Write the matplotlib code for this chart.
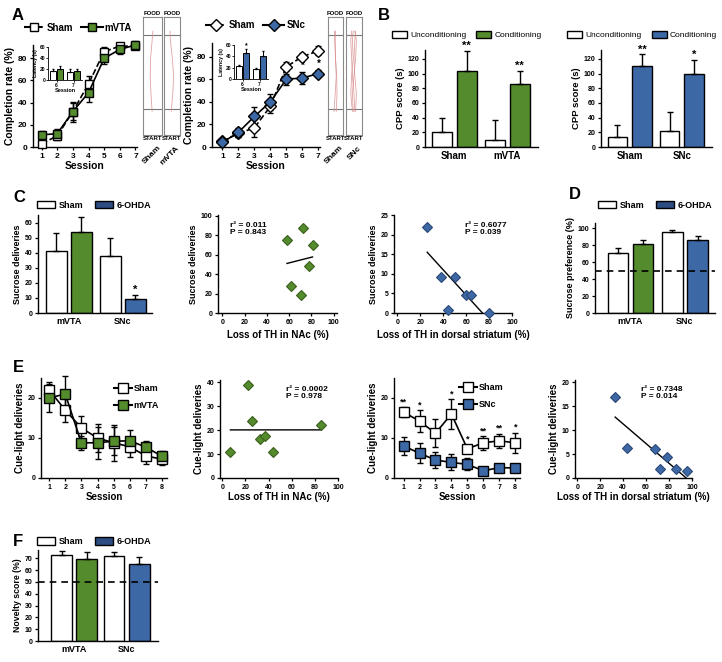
import matplotlib
matplotlib.use("Agg")
import matplotlib.pyplot as plt
import numpy as np
from matplotlib.patches import Patch
from matplotlib.lines import Line2D

plt.rcParams['font.family'] = ['Liberation Sans', 'DejaVu Sans']
plt.rcParams['font.weight'] = 'bold'
plt.rcParams['axes.labelweight'] = 'bold'
plt.rcParams['axes.linewidth'] = 1.0

GREEN = '#548b2c'
BLUE = '#3d68a6'
GREEN_EDGE = '#3b5f1d'
BLUE_EDGE = '#2b4875'
OHDA = '#2d4c82'

# ---- data ----
sessions7 = [1, 2, 3, 4, 5, 6, 7]
a_sham_vta = [3, 10, 32, 57, 86, 91, 91]
a_sham_vta_err = [3, 4, 8, 7, 4, 3, 3]
a_mvta = [11, 12, 32, 49, 80, 88, 92]
a_mvta_err = [3, 4, 9, 8, 5, 4, 4]
a_sham_snc = [5, 12, 17, 36, 71, 80, 85]
a_sham_snc_err = [2, 3, 8, 6, 4, 3, 4]
a_snc = [4, 13, 27, 40, 60, 61, 65]
a_snc_err = [2, 4, 8, 7, 5, 5, 3]
a_snc_stars = {6: '*', 7: '*'}

inset_sessions = [6, 7]
lat_sham_vta = [17, 15]
lat_sham_vta_err = [3, 5]
lat_mvta = [20, 16]
lat_mvta_err = [6, 4]
lat_sham_snc = [23, 17]
lat_sham_snc_err = [2, 2]
lat_snc = [46, 41]
lat_snc_err = [7, 9]

# track traces: x position (0-1 inside box) at these heights
track_levels = [0.2, 0.35, 0.5, 0.65, 0.8, 0.88]
trace_sham_vta = [[0.48, 0.42, 0.38, 0.40, 0.48, 0.52]]
trace_mvta = [[0.45, 0.55, 0.60, 0.52, 0.40, 0.38]]
trace_sham_snc = [[0.40, 0.48, 0.55, 0.50, 0.45, 0.42], [0.55, 0.60, 0.58, 0.50, 0.48, 0.50]]
trace_snc = [[0.40, 0.30, 0.35, 0.45, 0.40, 0.45], [0.55, 0.50, 0.40, 0.35, 0.30, 0.35],
             [0.60, 0.65, 0.55, 0.50, 0.55, 0.60], [0.45, 0.40, 0.50, 0.60, 0.65, 0.55]]

b_groups_vta = ['Sham', 'mVTA']
b_uncond_vta = [20, 10]
b_uncond_vta_err = [19, 27]
b_cond_vta = [103, 86]
b_cond_vta_err = [28, 17]
b_groups_snc = ['Sham', 'SNc']
b_uncond_snc = [13, 22]
b_uncond_snc_err = [17, 26]
b_cond_snc = [110, 99]
b_cond_snc_err = [16, 19]
b_stars_vta = ['**', '**']
b_stars_snc = ['**', '*']

lesion_groups = ['mVTA', 'SNc']
c_sham = [41, 38]
c_sham_err = [12, 12]
c_ohda = [54, 9]
c_ohda_err = [10, 3]
c_stars = ['', '*']

c_nac_loss = [72, 58, 81, 78, 62, 71]
c_nac_sucrose = [88, 75, 70, 48, 28, 19]
c_ds_loss = [26, 38, 50, 44, 60, 64, 80]
c_ds_sucrose = [22, 9.3, 9.3, 0.8, 4.6, 4.6, 0]

d_sham = [71, 95]
d_sham_err = [6, 3]
d_ohda = [81, 86]
d_ohda_err = [5, 5]

sessions8 = [1, 2, 3, 4, 5, 6, 7, 8]
e_sham_vta = [22, 17, 12.5, 10, 8.8, 7.8, 5.5, 4.7]
e_sham_vta_err = [2, 3, 3, 3.5, 4.5, 2.5, 2, 1.5]
e_mvta = [20, 21, 8.8, 8.8, 9.2, 9.3, 7.7, 5.4]
e_mvta_err = [3.5, 4.5, 1.7, 4, 3.5, 2.8, 1.5, 1.3]
e_sham_snc = [16.5, 14.2, 11.2, 16, 7.3, 8.8, 9.3, 8.8]
e_sham_snc_err = [1.2, 2.7, 3.5, 3.7, 1.0, 1.7, 1.8, 2.5]
e_snc = [8, 6.2, 4.5, 3.9, 3.4, 1.8, 2.6, 2.5]
e_snc_err = [2.3, 2.5, 2, 2, 1.5, 1, 0.4, 0.3]
e_stars = ['**', '*', '', '*', '*', '**', '**', '*']

e_nac_loss = [7, 22.5, 25.5, 32.5, 37, 43.5, 85]
e_nac_cue = [11, 39, 24, 16.5, 17.7, 10.7, 22]
e_ds_loss = [33, 43.5, 68, 78, 72, 86, 95.5]
e_ds_cue = [16.9, 6.3, 6.0, 4.4, 1.9, 1.9, 1.4]

f_sham = [73, 72]
f_sham_err = [3, 3]
f_ohda = [69, 65]
f_ohda_err = [6, 6]

# ---- figure ----
W, H = 722, 662
fig = plt.figure(figsize=(W / 100, H / 100), dpi=100)


def box(l, t, r, b):
    return fig.add_axes([l / W, 1 - b / H, (r - l) / W, (b - t) / H])


def style(ax, fs=5):
    ax.spines['top'].set_visible(False)
    ax.spines['right'].set_visible(False)
    ax.tick_params(labelsize=fs, length=2.5, width=0.9, pad=1.5)


def up_err(ax, x, y, e, cap=2):
    ax.errorbar(x, y, yerr=[np.zeros(len(y)), e], fmt='none', ecolor='k',
                elinewidth=1, capsize=cap, capthick=1)


def bars(ax, left, left_err, right, right_err, right_colors, width, off,
         stars=None, star_fs=8):
    x = np.arange(len(left))
    ax.bar(x - off, left, width, color='white', edgecolor='k', lw=1, zorder=2)
    ax.bar(x + off, right, width, color=right_colors, edgecolor='k', lw=1, zorder=2)
    up_err(ax, x - off, left, left_err)
    up_err(ax, x + off, right, right_err)
    if stars:
        for i, s in enumerate(stars):
            if s:
                ax.text(x[i] + off, right[i] + right_err[i], s, ha='center',
                        va='bottom', fontsize=star_fs)
    return x


def scatter_fit(ax, x, y, color, edge):
    x = np.array(x, float)
    y = np.array(y, float)
    m, b = np.polyfit(x, y, 1)
    x1 = x.max()
    if m < 0:
        x1 = min(x1, -b / m)
    xs = np.array([x.min(), x1])
    ax.plot(xs, m * xs + b, color='k', lw=1)
    ax.plot(x, y, 'D', color=color, mec=edge, ms=5.5, mew=0.8, clip_on=False, zorder=3)


def line_panel(ax, x, y1, e1, y2, e2, marker, c2, ls1, ls2, ms=6):
    ax.errorbar(x, y1, yerr=e1, fmt=marker, ls=ls1, color='k', mfc='white', mec='k',
                ms=ms, lw=1.2, elinewidth=1, capsize=2, zorder=3, clip_on=False)
    ax.errorbar(x, y2, yerr=e2, fmt=marker, ls=ls2, color='k', mfc=c2, mec='k',
                ms=ms, lw=1.2, elinewidth=1, capsize=2, zorder=3, clip_on=False)


def inset(ax, s, e1, v1, ev1, c):
    x = np.arange(len(s))
    ax.bar(x - 0.2, e1[0], 0.38, color='white', edgecolor='k', lw=0.7)
    ax.bar(x + 0.2, v1[0], 0.38, color=c, edgecolor='k', lw=0.7)
    ax.errorbar(x - 0.2, e1[0], yerr=[np.zeros(2), e1[1]], fmt='none', ecolor='k',
                elinewidth=0.7, capsize=1)
    ax.errorbar(x + 0.2, v1[0], yerr=[np.zeros(2), ev1[1]], fmt='none', ecolor='k',
                elinewidth=0.7, capsize=1)
    ax.set_ylim(0, 60)
    ax.set_yticks([0, 20, 40, 60])
    ax.set_xticks(x)
    ax.set_xticklabels(s)
    ax.set_xlim(-0.5, 1.5)
    ax.set_xlabel('Session', fontsize=4, labelpad=0)
    ax.set_ylabel('Latency (s)', fontsize=3.8, labelpad=1)
    ax.spines['top'].set_visible(False)
    ax.spines['right'].set_visible(False)
    for sp in ax.spines.values():
        sp.set_linewidth(0.6)
    ax.tick_params(labelsize=3.5, length=1.2, width=0.6, pad=0.8)
    ax.patch.set_alpha(0)


def tracks(boxes, traces_list, names):
    for (l, t, r, b), traces, name in zip(boxes, traces_list, names):
        ax = box(l, t, r, b)
        ax.set_xlim(0, 1)
        ax.set_ylim(0, 1)
        ax.set_xticks([])
        ax.set_yticks([])
        for sp in ax.spines.values():
            sp.set_color('#8a8a8a')
            sp.set_linewidth(0.8)
        ax.axhline(0.85, color='#777777', lw=0.8)
        ax.axhline(0.22, color='#777777', lw=0.8)
        for tr in traces:
            ax.plot(tr, track_levels, color='#d98c8c', lw=0.6, alpha=0.8)
        ax.text(0.5, 1.01, 'FOOD', ha='center', va='bottom', fontsize=4.3)
        ax.text(0.5, -0.01, 'START', ha='center', va='top', fontsize=4.3)
        ax.text(0.75, -0.08, name, ha='right', va='top', rotation=45, fontsize=6,
                rotation_mode='anchor', transform=ax.transAxes)


# ---- A ----
axA1 = box(33, 45, 137, 147)
line_panel(axA1, sessions7, a_sham_vta, a_sham_vta_err, a_mvta, a_mvta_err, 's', GREEN, '--', '-')
style(axA1, 6)
axA1.set_xlim(0.45, 7.1)
axA1.set_ylim(0, 92)
axA1.set_xticks(sessions7)
axA1.set_yticks([0, 20, 40, 60, 80])
axA1.set_xlabel('Session', fontsize=7.5, labelpad=1)
axA1.set_ylabel('Completion rate (%)', fontsize=7.5, labelpad=2)
h = [Line2D([], [], color='k', ls='--', marker='s', mfc='white', mec='k', ms=6),
     Line2D([], [], color='k', ls='-', marker='s', mfc=GREEN, mec='k', ms=6)]
axA1.legend(h, ['Sham', 'mVTA'], loc='center', bbox_to_anchor=(0.43, 1.17), ncol=2,
            frameon=False, fontsize=7, handlelength=2.2, columnspacing=0.8, handletextpad=0.2)
inset(box(48, 47, 82, 80), inset_sessions, (lat_sham_vta, lat_sham_vta_err),
      (lat_mvta, lat_mvta_err), (None, lat_mvta_err), GREEN)
tracks([(143, 17, 162, 135), (164, 17, 180, 135)], [trace_sham_vta, trace_mvta], ['Sham', 'mVTA'])

axA2 = box(212, 43, 320, 147)
line_panel(axA2, sessions7, a_sham_snc, a_sham_snc_err, a_snc, a_snc_err, 'D', BLUE, '--', '-', ms=6)
for s, t in a_snc_stars.items():
    i = sessions7.index(s)
    axA2.text(s, a_snc[i] + a_snc_err[i] + 1, t, ha='center', va='bottom', fontsize=7)
style(axA2, 6)
axA2.set_xlim(0.35, 7.1)
axA2.set_ylim(0, 92)
axA2.set_xticks(sessions7)
axA2.set_yticks([0, 20, 40, 60, 80])
axA2.set_xlabel('Session', fontsize=7.5, labelpad=1)
axA2.set_ylabel('Completion rate (%)', fontsize=7.5, labelpad=2)
h = [Line2D([], [], color='k', ls='--', marker='D', mfc='white', mec='k', ms=6),
     Line2D([], [], color='k', ls='-', marker='D', mfc=BLUE, mec='k', ms=6)]
axA2.legend(h, ['Sham', 'SNc'], loc='center', bbox_to_anchor=(0.40, 1.17), ncol=2,
            frameon=False, fontsize=7, handlelength=2.2, columnspacing=0.8, handletextpad=0.2)
axi = box(234, 45, 268, 79)
inset(axi, inset_sessions, (lat_sham_snc, lat_sham_snc_err), (lat_snc, lat_snc_err),
      (None, lat_snc_err), BLUE)
axi.text(0.2, lat_snc[0] + lat_snc_err[0], '*', ha='center', va='bottom', fontsize=5)
tracks([(328, 17, 343, 135), (346, 17, 362, 135)], [trace_sham_snc, trace_snc], ['Sham', 'SNc'])

# ---- B ----
for (l, r), groups, un, une, co, coe, col, st in [
        ((425, 538), b_groups_vta, b_uncond_vta, b_uncond_vta_err, b_cond_vta, b_cond_vta_err, GREEN, b_stars_vta),
        ((601, 712), b_groups_snc, b_uncond_snc, b_uncond_snc_err, b_cond_snc, b_cond_snc_err, BLUE, b_stars_snc)]:
    ax = box(l, 50, r, 147)
    x = bars(ax, un, une, co, coe, col, 0.38, 0.235, st, star_fs=8)
    style(ax, 5)
    ax.set_xlim(-0.55, 1.58)
    ax.set_ylim(0, 132)
    ax.set_yticks(range(0, 121, 20))
    ax.set_xticks(x)
    ax.set_xticklabels(groups, fontsize=7)
    ax.tick_params(axis='x', length=0, pad=3)
    ax.set_ylabel('CPP score (s)', fontsize=6.8, labelpad=2)
    h = [Patch(facecolor='white', edgecolor='k', lw=1), Patch(facecolor=col, edgecolor='k', lw=1)]
    ax.legend(h, ['Unconditioning', 'Conditioning'], loc='center', bbox_to_anchor=(0.37, 1.155),
              ncol=2, frameon=False, prop={'weight': 'normal', 'size': 6},
              handlelength=1.8, handleheight=0.9, columnspacing=1.2, handletextpad=0.4)


def ohda_legend(ax, xc, yc):
    h = [Patch(facecolor='white', edgecolor='k', lw=1), Patch(facecolor=OHDA, edgecolor='k', lw=1)]
    ax.legend(h, ['Sham', '6-OHDA'], loc='center', bbox_to_anchor=(xc, yc), ncol=2,
              frameon=False, fontsize=6.5, handlelength=2.0, handleheight=0.9,
              columnspacing=1.3, handletextpad=0.4)


# ---- C ----
axC1 = box(38, 215, 152, 313)
x = bars(axC1, c_sham, c_sham_err, c_ohda, c_ohda_err, [GREEN, BLUE], 0.39, 0.23, c_stars, 8)
style(axC1, 5)
axC1.set_xlim(-0.57, 1.54)
axC1.set_ylim(0, 65)
axC1.set_yticks(range(0, 61, 10))
axC1.set_xticks(x)
axC1.set_xticklabels(lesion_groups, fontsize=6.5)
axC1.tick_params(axis='x', length=0, pad=3)
axC1.set_ylabel('Sucrose deliveries', fontsize=6.5, labelpad=2)
ohda_legend(axC1, 0.49, 1.10)

axC2 = box(218, 215, 337, 313)
scatter_fit(axC2, c_nac_loss, c_nac_sucrose, GREEN, GREEN_EDGE)
style(axC2, 5)
axC2.set_xlim(-4, 103)
axC2.set_ylim(0, 101)
axC2.set_xticks(range(0, 101, 20))
axC2.set_yticks(range(0, 101, 20))
axC2.set_xlabel('Loss of TH in NAc (%)', fontsize=7, labelpad=3)
axC2.set_ylabel('Sucrose deliveries', fontsize=6.5, labelpad=2)
axC2.text(0.1, 0.86, 'r² = 0.011\nP = 0.843', transform=axC2.transAxes, fontsize=6,
          va='center', linespacing=1.0)

axC3 = box(394, 215, 512, 313)
scatter_fit(axC3, c_ds_loss, c_ds_sucrose, BLUE, BLUE_EDGE)
style(axC3, 5)
axC3.set_xlim(-3, 100)
axC3.set_ylim(0, 25)
axC3.set_xticks(range(0, 101, 20))
axC3.set_yticks(range(0, 26, 5))
axC3.set_xlabel('Loss of TH in dorsal striatum (%)', fontsize=7, labelpad=3)
axC3.set_ylabel('Sucrose deliveries', fontsize=6.5, labelpad=2)
axC3.text(0.6, 0.86, 'r² = 0.6077\nP = 0.039', transform=axC3.transAxes, fontsize=6,
          va='center', linespacing=1.0)

# ---- D ----
axD = box(595, 223, 715, 313)
x = bars(axD, d_sham, d_sham_err, d_ohda, d_ohda_err, [GREEN, BLUE], 0.37, 0.23)
axD.axhline(50, color='k', ls='--', lw=1.2, dashes=(4, 3), zorder=3)
style(axD, 5)
axD.set_xlim(-0.65, 1.55)
axD.set_ylim(0, 106)
axD.set_yticks(range(0, 101, 20))
axD.set_xticks(x)
axD.set_xticklabels(lesion_groups, fontsize=6.5)
axD.tick_params(axis='x', length=0, pad=3)
axD.set_ylabel('Sucrose preference (%)', fontsize=6.5, labelpad=2)
ohda_legend(axD, 0.50, 1.2)

# ---- E ----
axE1 = box(41, 378, 167, 478)
line_panel(axE1, sessions8, e_sham_vta, e_sham_vta_err, e_mvta, e_mvta_err, 's', GREEN, '-', '-', ms=6.5)
style(axE1, 5)
axE1.set_xlim(0.5, 8.3)
axE1.set_ylim(0, 25)
axE1.set_xticks(sessions8)
axE1.set_yticks([0, 10, 20])
axE1.set_xlabel('Session', fontsize=7, labelpad=1)
axE1.set_ylabel('Cue-light deliveries', fontsize=7, labelpad=2)
h = [Line2D([], [], color='k', marker='s', mfc='white', mec='k', ms=7),
     Line2D([], [], color='k', marker='s', mfc=GREEN, mec='k', ms=7)]
axE1.legend(h, ['Sham', 'mVTA'], loc='upper right', bbox_to_anchor=(1.0, 1.02), frameon=False,
            fontsize=6.5, handlelength=2.0, handletextpad=0.2, labelspacing=0.9)

axE2 = box(220, 380, 338, 478)
scatter_fit(axE2, e_nac_loss, e_nac_cue, GREEN, GREEN_EDGE)
style(axE2, 5)
axE2.set_xlim(-2, 100)
axE2.set_ylim(0, 41)
axE2.set_xticks(range(0, 101, 20))
axE2.set_yticks(range(0, 41, 10))
axE2.set_xlabel('Loss of TH in NAc (%)', fontsize=7, labelpad=1)
axE2.set_ylabel('Cue-light deliveries', fontsize=7, labelpad=2)
axE2.text(0.56, 0.87, 'r² = 0.0002\nP = 0.978', transform=axE2.transAxes, fontsize=6,
          va='center', linespacing=1.0)

axE3 = box(394, 378, 520, 478)
line_panel(axE3, sessions8, e_sham_snc, e_sham_snc_err, e_snc, e_snc_err, 's', BLUE, '-', '-', ms=6.5)
for i, s in enumerate(e_stars):
    if s:
        axE3.text(sessions8[i], e_sham_snc[i] + e_sham_snc_err[i] + 0.2, s, ha='center',
                  va='bottom', fontsize=6.5)
style(axE3, 5)
axE3.set_xlim(0.4, 8.3)
axE3.set_ylim(0, 25)
axE3.set_xticks(sessions8)
axE3.set_yticks([0, 10, 20])
axE3.set_xlabel('Session', fontsize=7, labelpad=1)
axE3.set_ylabel('Cue-light deliveries', fontsize=7, labelpad=2)
h = [Line2D([], [], color='k', marker='s', mfc='white', mec='k', ms=7),
     Line2D([], [], color='k', marker='s', mfc=BLUE, mec='k', ms=7)]
axE3.legend(h, ['Sham', 'SNc'], loc='upper right', bbox_to_anchor=(0.93, 1.03), frameon=False,
            fontsize=6.5, handlelength=2.0, handletextpad=0.2, labelspacing=0.9)

axE4 = box(575, 380, 692, 478)
scatter_fit(axE4, e_ds_loss, e_ds_cue, BLUE, BLUE_EDGE)
style(axE4, 5)
axE4.set_xlim(-2, 100)
axE4.set_ylim(0, 20.5)
axE4.set_xticks(range(0, 101, 20))
axE4.set_yticks(range(0, 21, 5))
axE4.set_xlabel('Loss of TH in dorsal striatum (%)', fontsize=7, labelpad=1)
axE4.set_ylabel('Cue-light deliveries', fontsize=7, labelpad=2)
axE4.text(0.56, 0.87, 'r² = 0.7348\nP = 0.014', transform=axE4.transAxes, fontsize=6,
          va='center', linespacing=1.0)

# ---- F ----
axF = box(38, 550, 158, 641)
x = bars(axF, f_sham, f_sham_err, f_ohda, f_ohda_err, [GREEN, BLUE], 0.4, 0.24)
axF.axhline(50, color='k', ls='--', lw=1.2, dashes=(4, 3), zorder=3)
style(axF, 5)
axF.set_xlim(-0.69, 1.6)
axF.set_ylim(0, 77)
axF.set_yticks(range(0, 71, 10))
axF.set_xticks(x)
axF.set_xticklabels(lesion_groups, fontsize=6.5)
axF.tick_params(axis='x', length=0, pad=3)
axF.set_ylabel('Novelty score (%)', fontsize=6.3, labelpad=2)
ohda_legend(axF, 0.47, 1.09)

# ---- panel letters ----
for s, px, py in [('A', 12, 15), ('B', 378, 15), ('C', 13, 197), ('D', 569, 195),
                  ('E', 13, 367), ('F', 13, 542)]:
    fig.text(px / W, 1 - py / H, s, fontsize=12, ha='left', va='center')

fig.savefig('out.png', dpi=100)
